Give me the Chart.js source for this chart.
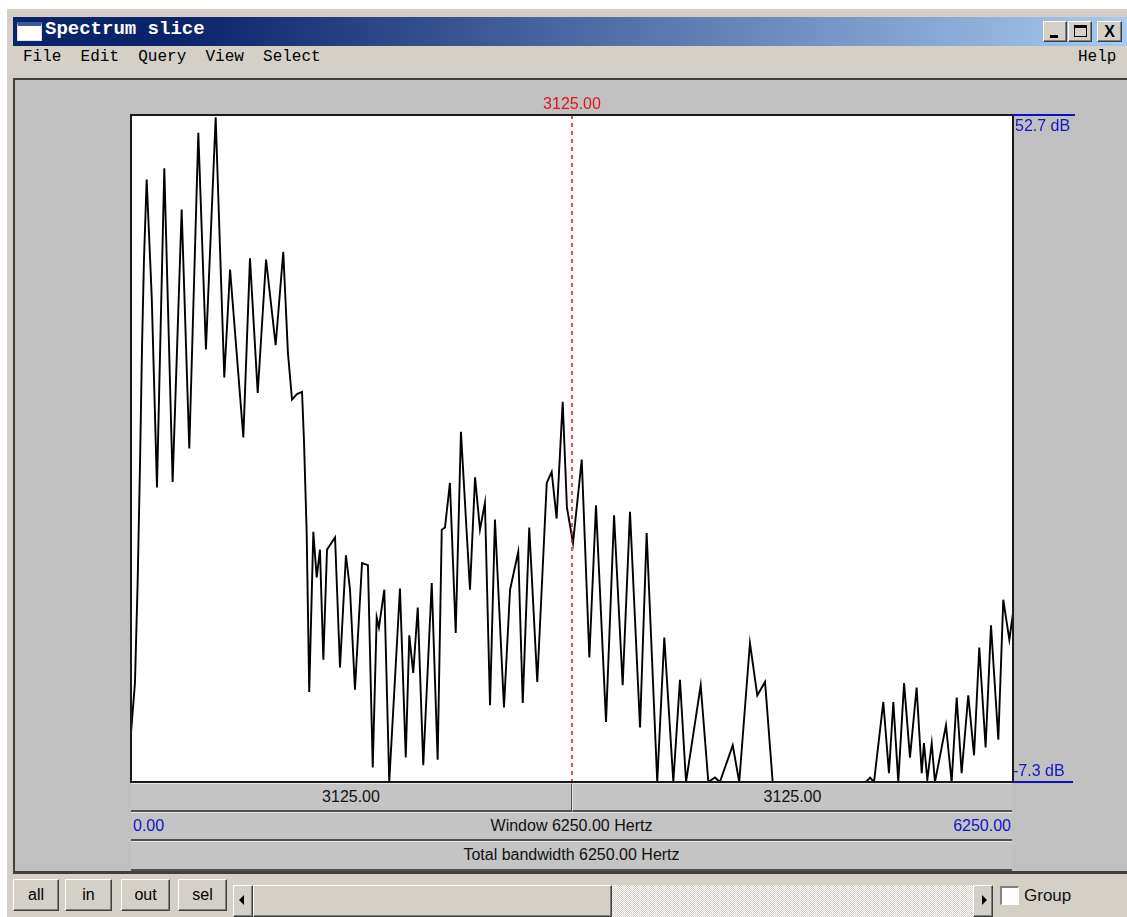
<!DOCTYPE html>
<html>
<head>
<meta charset="utf-8">
<script src="https://cdn.jsdelivr.net/npm/chart.js@4.4.1/dist/chart.umd.min.js"></script>
<style>
html,body{margin:0;padding:0;background:#fff;}
body{width:1127px;height:917px;overflow:hidden;position:relative;font-family:"Liberation Sans",Arial,sans-serif;}
.a{position:absolute;box-sizing:border-box;}
.raised{background:#d4d0c8;border-top:1px solid #fff;border-left:1px solid #fff;border-right:1px solid #404040;border-bottom:1px solid #404040;box-shadow:inset -1px -1px 0 #808080;}
.bar{background:#c4c4c4;border-top:1px solid #e6e6e6;border-bottom:2px solid #505050;font-size:16px;color:#111;line-height:26px;}
.btn{font-size:16px;color:#000;text-align:center;line-height:29px;}
</style>
</head>
<body>
<!-- window frame -->
<div class="a" style="left:7px;top:9px;width:1120px;height:908px;background:#d4d0c8;"></div>
<div class="a" style="left:13px;top:17px;width:1114px;height:29px;background:linear-gradient(to right,#0a246a 0%,#0a246a 15%,#a6caf0 100%);"></div>
<!-- title icon -->
<div class="a" style="left:17px;top:22px;width:25px;height:19px;background:#fff;border:1px solid #dde;border-top:4px solid #3a5a9a;"></div>
<div class="a" style="left:45px;top:18px;height:28px;line-height:28px;color:#fff;font:bold 19px 'Liberation Mono',monospace;white-space:pre;">Spectrum slice</div>
<!-- title buttons -->
<div class="a raised" style="left:1043px;top:21px;width:24px;height:21px;"><div class="a" style="left:6px;top:13px;width:8px;height:3px;background:#000;"></div></div>
<div class="a raised" style="left:1068px;top:21px;width:24px;height:21px;"><div class="a" style="left:5px;top:3px;width:13px;height:12px;border:1px solid #000;border-top:3px solid #000;"></div></div>
<div class="a raised" style="left:1097px;top:21px;width:25px;height:21px;font:bold 16px 'Liberation Sans',sans-serif;text-align:center;line-height:19px;">X</div>
<!-- menu -->
<div class="a" style="left:13px;top:47px;width:1114px;height:31px;background:#d4d0c8;"></div>
<div class="a" style="left:23px;top:48px;line-height:28px;font:16px 'Liberation Mono',monospace;white-space:pre;color:#000;">File  Edit  Query  View  Select</div>
<div class="a" style="left:1078px;top:48px;line-height:28px;font:16px 'Liberation Mono',monospace;color:#000;">Help</div>
<!-- content -->
<div class="a" style="left:13px;top:78px;width:1114px;height:796px;background:#c0c0c0;border-top:2px solid #404040;border-left:2px solid #404040;border-bottom:3px solid #404040;"></div>

<canvas id="c" class="a" style="left:126px;top:85px;width:892px;height:700px;"></canvas>

<!-- y range labels -->
<div class="a" id="ymax" style="left:1013px;top:114px;width:62px;border-top:2px solid #1010c0;color:#1414c8;font-size:16px;line-height:20px;padding-left:2px;"></div>
<div class="a" id="ymin" style="left:1013px;top:761px;width:60px;border-bottom:2px solid #1010c0;color:#1414c8;font-size:16px;line-height:20px;"></div>

<!-- bottom bars -->
<div class="a bar" id="half1" style="left:131px;top:783px;width:441px;height:29px;text-align:center;border-right:1px solid #505050;"></div>
<div class="a bar" id="half2" style="left:572px;top:783px;width:440px;height:29px;text-align:center;border-left:1px solid #e6e6e6;"></div>
<div class="a bar" style="left:131px;top:812px;width:881px;height:29px;">
  <span class="a" id="wmin" style="left:2px;top:0;color:#1414c8;"></span>
  <span class="a" id="wmid" style="left:0;width:100%;top:0;text-align:center;"></span>
  <span class="a" id="wmax" style="right:1px;top:0;color:#1414c8;"></span>
</div>
<div class="a bar" id="total" style="left:131px;top:841px;width:881px;height:30px;text-align:center;"></div>

<!-- bottom controls -->
<div class="a raised btn" style="left:13px;top:879px;width:46px;height:32px;">all</div>
<div class="a raised btn" style="left:65px;top:879px;width:47px;height:32px;">in</div>
<div class="a raised btn" style="left:121px;top:879px;width:49px;height:32px;">out</div>
<div class="a raised btn" style="left:178px;top:879px;width:49px;height:32px;">sel</div>
<div class="a" style="left:233px;top:885px;width:760px;height:32px;background-color:#fff;background-image:repeating-conic-gradient(#d4d0c8 0 25%,#fff 0 50%);background-size:2px 2px;"></div>
<div class="a raised" style="left:233px;top:885px;width:20px;height:32px;"><div class="a" style="left:5px;top:9px;width:0;height:0;border-top:5px solid transparent;border-bottom:5px solid transparent;border-right:5px solid #000;"></div></div>
<div class="a raised" style="left:253px;top:885px;width:359px;height:32px;"></div>
<div class="a raised" style="left:973px;top:885px;width:20px;height:32px;"><div class="a" style="left:8px;top:9px;width:0;height:0;border-top:5px solid transparent;border-bottom:5px solid transparent;border-left:5px solid #000;"></div></div>
<div class="a" style="left:1000px;top:886px;width:19px;height:19px;background:#fff;border-top:2px solid #808080;border-left:2px solid #808080;border-right:1px solid #fff;border-bottom:1px solid #fff;"></div>
<div class="a" style="left:1024px;top:882px;font-size:17px;line-height:28px;color:#111;">Group</div>

<script>
// Spectrum slice: frequency (Hz) and level (dB)
const frequenciesHz = [0,28,47,64,78,92,111,147,184,236,295,359,413,477,531,600,661,702,796,843,898,957,1025,1079,1112,1141,1176,1212,1226,1245,1263,1292,1316,1339,1363,1389,1446,1481,1523,1552,1587,1637,1679,1713,1741,1757,1795,1830,1906,1947,1972,2000,2032,2071,2131,2173,2202,2225,2260,2301,2338,2402,2438,2473,2508,2544,2579,2643,2686,2744,2776,2822,2879,2946,2981,3016,3059,3089,3132,3194,3248,3295,3366,3423,3484,3536,3607,3654,3729,3779,3843,3890,3933,4037,4091,4138,4173,4264,4310,4386,4438,4493,4547,5208,5237,5265,5331,5371,5402,5437,5478,5520,5567,5603,5619,5643,5674,5697,5775,5815,5851,5886,5933,5974,6011,6056,6094,6146,6181,6224,6250];
const levelsDb = [-2.9,1.6,10.6,21.4,31.8,39.7,46.9,36.3,19.2,47.9,19.7,44.2,22.7,51.1,31.6,52.5,29.1,38.8,23.7,39.8,27.7,39.7,32.0,40.4,31.3,27.1,27.6,27.8,23.3,15.1,0.8,15.2,11.1,13.6,3.7,13.6,14.7,3.0,13.1,10.0,1.0,12.4,12.2,-6.0,7.5,6.6,10.0,-7.3,10.1,-5.1,5.9,2.5,8.4,-5.8,10.6,-5.3,15.4,15.6,19.6,6.1,24.2,10.0,20.1,15.4,17.8,-0.4,16.3,-0.6,10.0,13.4,-0.2,15.6,1.7,19.6,20.6,16.4,26.9,17.4,14.2,21.7,3.9,17.6,-1.9,16.7,1.4,17.0,-2.4,15.1,-7.3,5.7,-7.3,1.9,-7.3,1.4,-7.3,-6.9,-7.3,-4.0,-7.3,5.2,0.5,1.7,-7.3,-7.3,-6.9,-7.3,-0.1,-6.5,-0.1,-7.3,1.6,-5.1,1.2,-6.5,-3.8,-7.1,-3.8,-7.3,-2.2,-7.3,0.3,-6.5,0.5,-4.9,4.8,-4.2,6.8,-3.5,9.1,5.5,7.9];
const windowHz = [0, 6250];          // visible frequency window
const totalBandwidthHz = 6250;
const dbRange = [-7.3, 52.7];        // bottom and top of the vertical axis
const cursorHz = 3125;               // cursor position

const fmt = v => v.toFixed(2);
document.getElementById('ymax').textContent = dbRange[1].toFixed(1) + ' dB';
document.getElementById('ymin').textContent = dbRange[0].toFixed(1) + ' dB';
document.getElementById('half1').textContent = fmt(cursorHz - windowHz[0]);
document.getElementById('half2').textContent = fmt(windowHz[1] - cursorHz);
document.getElementById('wmin').textContent = fmt(windowHz[0]);
document.getElementById('wmax').textContent = fmt(windowHz[1]);
document.getElementById('wmid').textContent = 'Window ' + fmt(windowHz[1] - windowHz[0]) + ' Hertz';
document.getElementById('total').textContent = 'Total bandwidth ' + fmt(totalBandwidthHz) + ' Hertz';

const points = frequenciesHz.map((f, i) => ({x: f, y: levelsDb[i]}));

const framePlugin = {
  id: 'frame',
  beforeDatasetsDraw(chart) {
    const {ctx, chartArea: a} = chart;
    ctx.save();
    ctx.fillStyle = '#fff';
    ctx.fillRect(a.left, a.top, a.right - a.left, a.bottom - a.top);
    ctx.restore();
  },
  afterDatasetsDraw(chart) {
    const {ctx, chartArea: a, scales} = chart;
    const x = scales.x.getPixelForValue(cursorHz);
    ctx.save();
    ctx.strokeStyle = '#e0141e';
    ctx.lineWidth = 1.5;
    ctx.setLineDash([4, 4]);
    ctx.beginPath();
    ctx.moveTo(x, a.top);
    ctx.lineTo(x, a.bottom);
    ctx.stroke();
    ctx.setLineDash([]);
    ctx.fillStyle = '#e0141e';
    ctx.font = '16px "Liberation Sans", Arial, sans-serif';
    ctx.textAlign = 'center';
    ctx.textBaseline = 'middle';
    ctx.fillText(fmt(cursorHz), x, a.top - 10);
    ctx.strokeStyle = '#1a1a1a';
    ctx.lineWidth = 2;
    ctx.strokeRect(a.left, a.top, a.right - a.left, a.bottom - a.top);
    ctx.restore();
  }
};

new Chart(document.getElementById('c'), {
  type: 'line',
  data: {
    datasets: [{
      data: points,
      borderColor: '#000',
      borderWidth: 1.9,
      pointRadius: 0,
      tension: 0,
      fill: false
    }]
  },
  options: {
    responsive: false,
    animation: false,
    devicePixelRatio: 1,
    layout: {padding: {left: 5, right: 5, top: 30, bottom: 3}},
    plugins: {legend: {display: false}, tooltip: {enabled: false}},
    scales: {
      x: {type: 'linear', min: windowHz[0], max: windowHz[1], display: false},
      y: {type: 'linear', min: dbRange[0], max: dbRange[1], display: false}
    }
  },
  plugins: [framePlugin]
});
</script>
</body>
</html>
